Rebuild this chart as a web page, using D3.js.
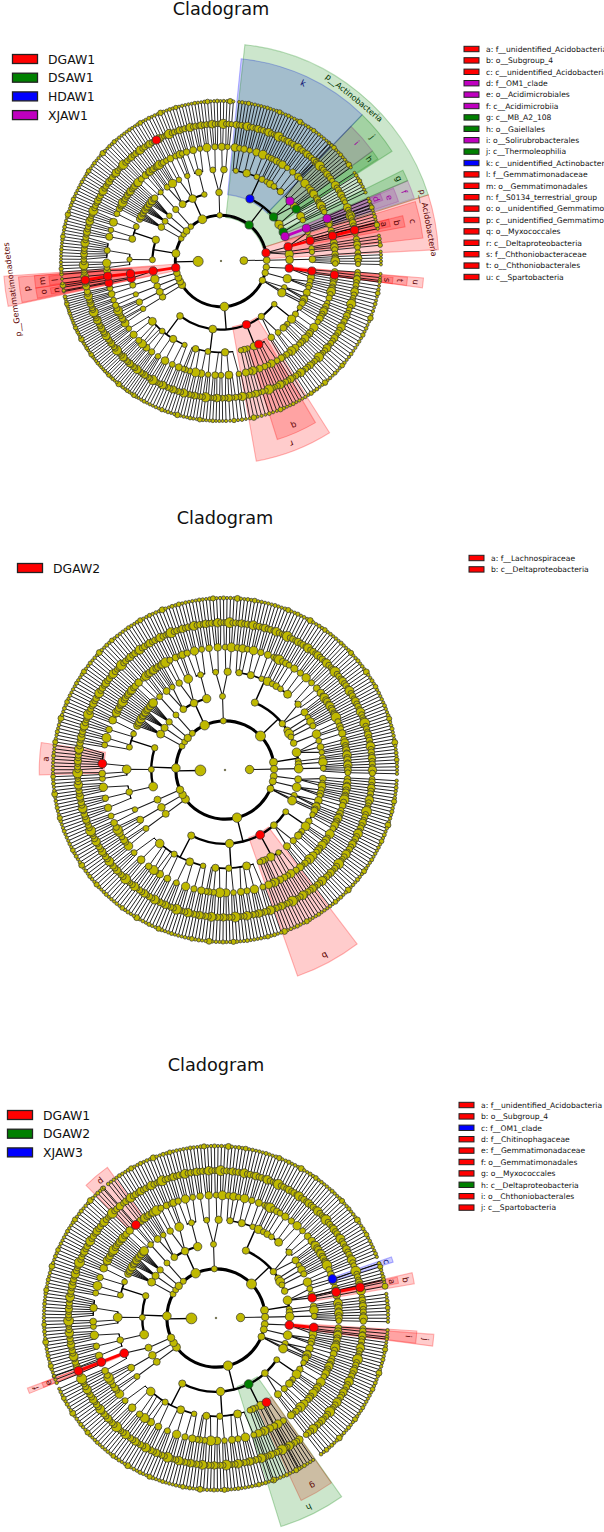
<!DOCTYPE html>
<html><head><meta charset="utf-8">
<style>html,body{margin:0;padding:0;background:#fff}svg{display:block}text{font-family:"DejaVu Sans",sans-serif}</style>
<script src="https://cdn.jsdelivr.net/npm/d3@7"></script></head><body>
<svg id="c" width="604" height="1532"></svg>
<script>
// ---- taxonomy: arrays are clades, a number n means n unbranched lineages down to species ----
const phyClock1=[[[[2],1],[2],1]];
const phyClock2=[[[3],2]];
const phyClock3=[[[[2],[2]],2],2];
const phyProteo=[
 [[2,[2]],[[3]],[2,1],[[2],1],2],
 [[[3],2],[[2],2]],
 [[[3],[2],1],[[2],[2]],[2],1,[[2]]],
 [[[3],[4],[2],[3]],[[3],[3]],[[2],[3],2]],
 [[[3],[3]],[[4],[4]],[[4],[3],1],[1,[4],[4],[4]]]
];
const phyFan1=[[[[3],2]]];
const phyFan2=[[[[2],[2],2]]];
const phyFan3=[[[[3],[3]]]];
const phyFirmi=[[[[4],[4],[5]]],[[[2],[2],[9]]],[[[3],[3]],[[4],[4]]]];
const phyPre=[[[[4],[3]]]];
const phyGemma=[[[1,[2]],[[3],1]]];
const phyFirmiRest=[[[[2],[2],[9]]],[[[3],[3]],[[4],[4]]]];
const phyNarrow1=[[5]],phyNarrow2=[[5]],phyNarrow3=[[5]];
const phyNarrow4=[[[[3],[2],2]]];
const phyBroad=[[[3],[4]],[[[2],[2]],[[3],2]],[[[3],[3],[3]]]];
const phyTop=[[[[3],[4]],[[2],[3]]]];
const phyActino=[
 [[[2],[2],[2]],[[3],[3]],[[3],[2]],[2],[[2],1],[[2]],[[3]],[[3],[3]]],
 [[[3],[3],[2]],[3]],
 [[3]],[[2]],[[3]],[[[3],2]]
];
const phyAcido=[[[[3]],[[2],1],[3]],[[3]],1];
const phySecond=[[[5]]];
const kingdomOneFirst=[phyClock1,phyClock2,phyClock3,phyProteo,phyFan1,phyFan2,phyFan3,phyPre,phyGemma,phyFirmiRest,phyNarrow1,phyNarrow2,phyNarrow3,phyNarrow4,phyBroad,phyTop,phyActino,phyAcido];
const kingdomOne=[phyClock1,phyClock2,phyClock3,phyProteo,phyFan1,phyFan2,phyFan3,phyFirmi,phyNarrow1,phyNarrow2,phyNarrow3,phyNarrow4,phyBroad,phyTop,phyActino,phyAcido];
const kingdomTwo=[phySecond];
const firstLeafAngle=3;
// where each chart's clades actually sit (tree angle -> picture angle)
const placeFrom1=[3,35,61.5,78,110,140,160,168,363];
const placeTo1=[3,39.7,68.2,88.6,121,146,162,168,363];
const placeFrom2=[3,363];
const placeTo2=[3,363];
const placeFrom3=[3,363];
const placeTo3=[3,363];
// node radii (px at the 172 px plot)
const kingdomSizes=[5.4,4.2];
const phylumSizes1=[3.5,3.5,3.5,4.7,4,3.8,3.8,3.6,4.2,4.3,3,3,3.7,3,4.7,3,5,4,3.7];
const phylumSizes=[3.5,3.5,3.5,4.7,4,3.8,3.8,4.3,3,3,3.7,3,4.7,3,5,4,3.7];
const classSizes=[3.5,4.4,3,3.3,4.4,3,3.4,4.4,4.2,3.6,3.5,3.8,3.5,4.4,3,3.2,4,3.6,3.2,3,3.4,3.8,4.2,3,3.6,3.2];
const orderSizes=[3.4,2.9,4,3.2,3.6,2.8,3.9,3.1,4.3,3,3.5,2.8,3.3,4.4,3,2.9,3.7,3.2,3.6,2.8,4.1,3];
const familySizes=[3.3,3.9,3,4.3,3.2,3.6,2.9,4,4.8,3.1,3.4,3,3.7,3.2,4.2,3,3.4,3.8,3,4.5];
const genusSizes=[3,3.4,2.8,3.9,3,3.3,2.8,4.3,3.1,2.9,3.5,5,2.9,3.2,2.8,3.8,3,3.4,2.8,4.5];
const speciesSizes=[1.7,1.6,2,1.7,1.6,1.9,2.6,1.6,1.7,2.1,1.6,1.8,1.6,3,1.7,1.6,2,1.7,2.4,1.6,1.8,1.6];
// chart frames
const frames=[{cx:221,cy:261,R:160},{cx:225,cy:770,R:172},{cx:216,cy:1318,R:172}];
const titleY=[15,524,1071];
const legendLeftX=[12,17,7];
const legendLeftY=[59,568,1115];
const legendRightX=[464,469,459];
const legendRightY=[49,558,1105];
// groups
const groups1=["DGAW1","DSAW1","HDAW1","XJAW1"];
const groupColors1=["#ff0000","#008000","#0000ff","#bf00bf"];
const groups2=["DGAW2"];
const groupColors2=["#ff0000"];
const groups3=["DGAW1","DGAW2","XJAW3"];
const groupColors3=["#ff0000","#008000","#0000ff"];
// biomarkers: [label, legend text, colour index, level, node angle, wedge from, wedge to]
const markers1=[
["a","f__unidentified_Acidobacteria",0,5,-12.7,-14,-11.5],
["b","o__Subgroup_4",0,4,-12.8,-14,-10.5],
["c","c__unidentified_Acidobacteria",0,3,-12,-17,-6.5],
["d","f__OM1_clade",3,5,-21.8,-23,-20.6],
["e","o__Acidimicrobiales",3,4,-21,-22.9,-18.5],
["f","c__Acidimicrobiia",3,3,-21,-23.3,-18],
["g","c__MB_A2_108",1,3,-25,-26.5,-23.3],
["h","o__Gaiellales",1,4,-34.6,-36,-33],
["i","o__Solirubrobacterales",3,4,-41,-46,-36],
["j","c__Thermoleophilia",1,3,-40,-46,-32.7],
["k","c__unidentified_Actinobacteria",2,3,-65,-84.3,-46],
["l","f__Gemmatimonadaceae",0,5,172.4,172,175],
["m","o__Gemmatimonadales",0,4,172,171.7,175.5],
["n","f__S0134_terrestrial_group",0,5,169,169,171],
["o","o__unidentified_Gemmatimonadetes",0,4,169.1,168.5,171.7],
["p","c__unidentified_Gemmatimonadetes",0,3,171.6,168.2,175.5],
["q","o__Myxococcales",0,4,65.6,59.7,72.5],
["r","c__Deltaproteobacteria",0,3,68.2,57.7,80],
["s","f__Chthoniobacteraceae",0,5,7,5.5,7.5],
["t","o__Chthoniobacterales",0,4,6.3,5,7.5],
["u","c__Spartobacteria",0,3,6,4.8,7.6]];
const phylumMarkers1=[
["p__Actinobacteria",1,-52,-83.7,-17.7,-50.8],
["p__Acidobacteria",0,-10.3,-17.7,-3,-10.4],
["p__Gemmatimonadetes",0,171.6,168,176,172.2]];
const genusMarks1=[[-13,0],[172,0],[241.9,0]];
const thick1=[["p__Gemmatimonadetes","p"],["p","m"],["m","l"],["l",172],["u","t"],["a",-13],["f","e"],["c","b"]];
const markers2=[
["a","f__Lachnospiraceae",0,5,183,178.5,188.5],
["b","c__Deltaproteobacteria",0,3,61.5,52.8,70.6]];
const phylumMarkers2=[];
const genusMarks2=[];
const thick2=[];
const markers3=[
["a","f__unidentified_Acidobacteria",0,5,-12.2,-12.7,-10.8],
["b","o__Subgroup_4",0,4,-11.8,-13,-9.8],
["c","f__OM1_clade",2,5,-18.5,-19.2,-17.5],
["d","f__Chitinophagaceae",0,5,229.3,225.6,234.2],
["e","f__Gemmatimonadaceae",0,5,159,158.1,159.6],
["f","o__Gemmatimonadales",0,4,159,158,159.6],
["g","o__Myxococcales",0,4,59.1,55,65],
["h","c__Deltaproteobacteria",1,3,63.7,54.9,72.7],
["i","o__Chthoniobacterales",0,4,5.5,3.7,7.2],
["j","c__Spartobacteria",0,3,5.5,4.3,7.4]];
const phylumMarkers3=[];
const genusMarks3=[[-12,0],[159,0]];
const thick3=[["a",-12],["j","i"],["f","e"],["e",159]];

const charts=[
 {top:kingdomOneFirst,pSizes:phylumSizes1,from:placeFrom1,to:placeTo1,groups:groups1,colors:groupColors1,markers:markers1,phy:phylumMarkers1,genus:genusMarks1,thick:thick1},
 {top:kingdomOne,pSizes:phylumSizes,from:placeFrom2,to:placeTo2,groups:groups2,colors:groupColors2,markers:markers2,phy:phylumMarkers2,genus:genusMarks2,thick:thick2},
 {top:kingdomOne,pSizes:phylumSizes,from:placeFrom3,to:placeTo3,groups:groups3,colors:groupColors3,markers:markers3,phy:phylumMarkers3,genus:genusMarks3,thick:thick3}];

// ---- build hierarchy ----
const SPECIES=7;
const chain=d=>d===SPECIES?{}:{children:[chain(d+1)]};
const grow=(spec,d)=>({children:spec.flatMap(s=>typeof s==="number"?d3.range(s).map(()=>chain(d+1)):[grow(s,d+1)])});
const textCol={"#ff0000":"#5c0000","#008000":"#003300","#0000ff":"#00006a","#bf00bf":"#a000a0"};
const svg=d3.select("#c");
const rad=a=>a*Math.PI/180;
const offsetByLevel={5:1.08,4:1.17,3:1.27,2:1.36};
const labelByLevel={5:1.045,4:1.125,3:1.225};
const arcWidth={2:3.1,3:2.4,4:1.7,5:1.3,6:1.1,7:1};

charts.forEach((ch,ci)=>{
 const F=frames[ci],k=F.R/172;
 const root=d3.hierarchy(grow([ch.top,kingdomTwo],0));
 const leaves=root.leaves().length;
 d3.cluster().size([360*(leaves-1)/leaves,1]).separation(()=>1)(root);
 root.eachAfter(n=>{ if(n.children) n.x=(n.children[0].x+n.children[n.children.length-1].x)/2; });
 const rScale=d3.scaleLinear().domain([0,SPECIES]).range([0,F.R]);
 const place=d3.scaleLinear().domain(ch.from).range(ch.to);
 const all=root.descendants();
 all.forEach(n=>{n.th=place(firstLeafAngle+n.x);n.r=rScale(n.depth);});
 const ringIx={};
 const lists={3:classSizes,4:orderSizes,5:familySizes,6:genusSizes,7:speciesSizes};
 all.forEach(n=>{
  const i=ringIx[n.depth]=(ringIx[n.depth]??-1)+1;
  n.size=(n.depth===0?0.8:n.depth===1?kingdomSizes[i]:n.depth===2?ch.pSizes[i]:lists[n.depth][i%lists[n.depth].length]);
 });
 const P=(th,r)=>[r*Math.cos(rad(th)),r*Math.sin(rad(th))];
 const angDist=(a,b)=>Math.abs(((a-b)%360+540)%360-180);
 const snap=(level,th,col)=>{
  let best=null,bd=1e9;
  all.forEach(n=>{ if(n.depth===level&&!n.col){const d=angDist(n.th,th); if(d<bd){bd=d;best=n;}} });
  const delta=((th-best.th)%360+540)%360-180;
  if(Math.abs(delta)<1.5) best.descendants().forEach(n=>{n.th+=delta;}); else best.th+=delta;
  best.col=col;return best;
 };
 const named={};
 ch.phy.forEach(m=>{named[m[0]]=snap(2,m[2],ch.colors[m[1]]);});
 ch.markers.slice().sort((a,b)=>a[3]-b[3]).forEach(m=>{named[m[0]]=snap(m[3],m[4],ch.colors[m[2]]);});
 const gen={};
 ch.genus.forEach(m=>{gen[m[0]]=snap(6,m[0],ch.colors[m[1]]);});

 const g=svg.append("g").attr("transform",`translate(${F.cx},${F.cy})`);
 // wedges: deepest clades first, phyla laid over them
 const arcGen=d3.arc();
 const wedge=(lvl,t0,t1,col)=>g.append("path")
   .attr("d",arcGen({innerRadius:rScale(lvl)-2*k,outerRadius:F.R*offsetByLevel[lvl],startAngle:rad(t0+90),endAngle:rad(t1+90)}))
   .attr("fill",col).attr("fill-opacity",0.2).attr("stroke",col).attr("stroke-opacity",0.28).attr("stroke-width",1.1);
 ch.markers.slice().sort((a,b)=>b[3]-a[3]).forEach(m=>wedge(m[3],m[5],m[6],ch.colors[m[2]]));
 ch.phy.forEach(m=>wedge(2,m[3],m[4],ch.colors[m[1]]));
 // links
 const lines=g.append("g").attr("fill","none").attr("stroke","#000").attr("stroke-linecap","round");
 const seg=(t1,r1,t2,r2,w,op)=>{const a=P(t1,r1),b=P(t2,r2);
   lines.append("line").attr("x1",a[0]).attr("y1",a[1]).attr("x2",b[0]).attr("y2",b[1]).attr("stroke-width",w).attr("stroke-opacity",op);};
 const ring=(t1,t2,r,w)=>lines.append("path").attr("d",d3.arc()({innerRadius:r,outerRadius:r,startAngle:rad(t1+90),endAngle:rad(t2+90)})).attr("stroke-width",w);
 root.descendants().filter(n=>n.children).forEach(n=>{
  const ths=n.children.map(c=>c.th), lo=d3.min(ths), hi=d3.max(ths), cr=rScale(n.depth+1);
  if(n.depth===0){return;}
  if(n.depth<=3&&hi-lo>7){
   ring(lo,hi,cr,arcWidth[n.depth+1]*k);
   seg(n.th,n.r,n.th,cr,1.4*k,1);
  } else if(n.depth<=3){
   n.children.forEach(c=>seg(n.th,n.r,c.th,c.r,1.1*k,0.9));
  } else {
   // outer rings: nearly parallel strokes joined on the parent's ring
   const starts=n.children.map(c=>n.th+(c.th-n.th)*0.75);
   if(n.children.length>1) ring(d3.min(starts),d3.max(starts),n.r,1*k);
   n.children.forEach((c,i)=>seg(starts[i],n.r,c.th,c.r,1*k,0.88));
  }
 });
 // highlighted links
 ch.thick.forEach(([u,v])=>{
  const A=named[u],B=typeof v==="number"?gen[v]:named[v];
  const a=P(A.th,A.r),b=P(B.th,B.r);
  g.append("line").attr("x1",a[0]).attr("y1",a[1]).attr("x2",b[0]).attr("y2",b[1]).attr("stroke",A.col).attr("stroke-width",3*k);
 });
 // nodes
 g.append("g").selectAll("circle").data(all.slice().sort((a,b)=>(a.col?1:0)-(b.col?1:0))).join("circle")
  .attr("cx",d=>P(d.th,d.r)[0]).attr("cy",d=>P(d.th,d.r)[1])
  .attr("r",d=>(d.col?4.4:d.size)*k)
  .attr("fill",d=>d.col||"#bfb900").attr("stroke","#333").attr("stroke-width",0.7);
 // labels
 const lab=(txt,th,r,col,fs)=>{
  const p=P(th,r);
  g.append("text").attr("transform",`translate(${p[0]},${p[1]}) rotate(${th+90})`).attr("text-anchor","middle").attr("dominant-baseline","central")
   .attr("font-size",fs).attr("fill",col).text(txt);
 };
 ch.markers.forEach(m=>lab(m[0],(m[5]+m[6])/2,F.R*labelByLevel[m[3]],textCol[ch.colors[m[2]]],8.5));
 ch.phy.forEach(m=>lab(m[0],m[5],F.R*1.315,textCol[ch.colors[m[1]]],8));
 // title
 svg.append("text").attr("x",F.cx).attr("y",titleY[ci]).attr("text-anchor","middle").attr("font-size",17.7).attr("fill","#111").text("Cladogram");
 // left legend
 ch.groups.forEach((name,i)=>{
  const y=legendLeftY[ci]+i*18.7;
  svg.append("rect").attr("x",legendLeftX[ci]+0.5).attr("y",y-4.5).attr("width",25).attr("height",9).attr("fill",ch.colors[i]).attr("stroke","#222").attr("stroke-width",1.3);
  svg.append("text").attr("x",legendLeftX[ci]+36).attr("y",y+4.5).attr("font-size",12.4).attr("fill","#111").text(name);
 });
 // right legend
 ch.markers.forEach((m,i)=>{
  const y=legendRightY[ci]+i*11.4;
  svg.append("rect").attr("x",legendRightX[ci]).attr("y",y-2.7).attr("width",15).attr("height",5.4).attr("fill",ch.colors[m[2]]).attr("stroke","#222").attr("stroke-width",1);
  svg.append("text").attr("x",legendRightX[ci]+22).attr("y",y+2.7).attr("font-size",7.6).attr("fill","#111").text(m[0]+": "+m[1]);
 });
});
</script></body></html>
